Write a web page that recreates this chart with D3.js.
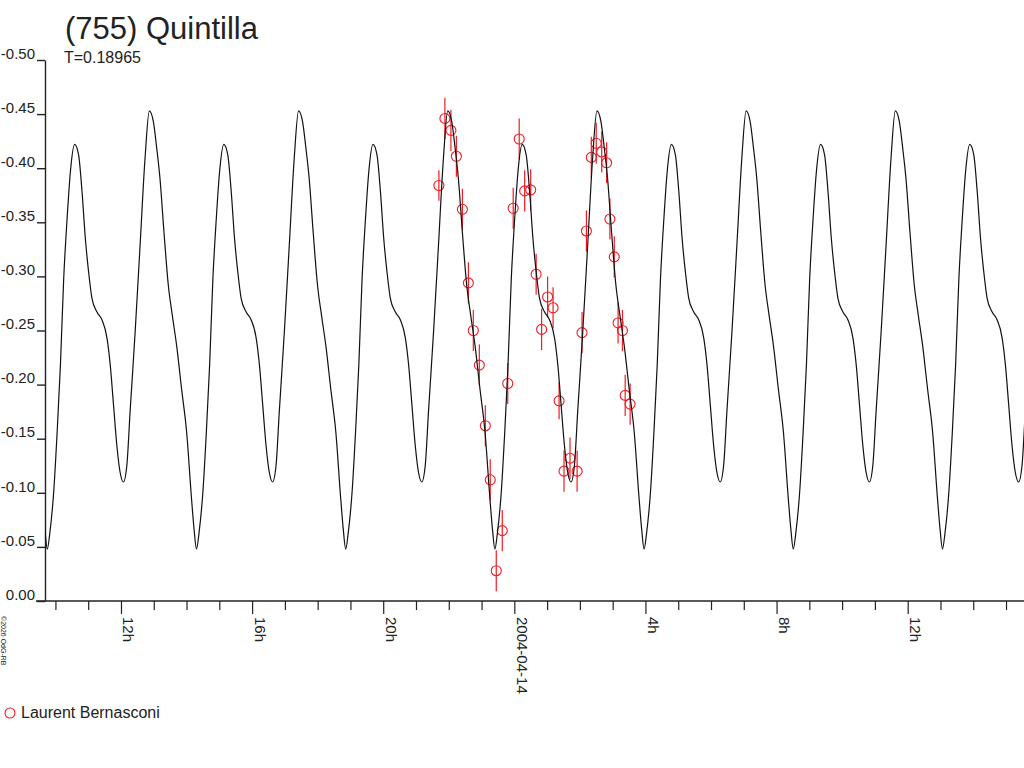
<!DOCTYPE html>
<html>
<head>
<meta charset="utf-8">
<script src="https://cdn.jsdelivr.net/npm/d3@7"></script>
<style>
  body { margin: 0; background: #fff; }
  svg { display: block; font-family: "Liberation Sans", Arial, sans-serif; }
</style>
</head>
<body>
<div id="chart"></div>
<script>
// lightcurve of (755) Quintilla, 2004-04-13/14
const title = "(755) Quintilla";
const periodDays = 0.18965;
const observer = "Laurent Bernasconi";
const copyright = "\u00a92026 OdG-RB";

// observations (UT), relative magnitude, error
const obsTimes = [
  "2004-04-13T21:41", "2004-04-13T21:52", "2004-04-13T22:03", "2004-04-13T22:13",
  "2004-04-13T22:24", "2004-04-13T22:35", "2004-04-13T22:44", "2004-04-13T22:55",
  "2004-04-13T23:06", "2004-04-13T23:15", "2004-04-13T23:26", "2004-04-13T23:37",
  "2004-04-13T23:47", "2004-04-13T23:57", "2004-04-14T00:08", "2004-04-14T00:18",
  "2004-04-14T00:29", "2004-04-14T00:39", "2004-04-14T00:49", "2004-04-14T01:00",
  "2004-04-14T01:10", "2004-04-14T01:21", "2004-04-14T01:30", "2004-04-14T01:41",
  "2004-04-14T01:54", "2004-04-14T02:03", "2004-04-14T02:11", "2004-04-14T02:20",
  "2004-04-14T02:29", "2004-04-14T02:39", "2004-04-14T02:48", "2004-04-14T02:54",
  "2004-04-14T03:02", "2004-04-14T03:09", "2004-04-14T03:17", "2004-04-14T03:22",
  "2004-04-14T03:31"
];
const obsMags = [
  -0.384, -0.446, -0.435, -0.411, -0.362, -0.294, -0.250, -0.218,
  -0.162, -0.112, -0.028, -0.065, -0.201, -0.363, -0.427, -0.379,
  -0.380, -0.302, -0.251, -0.281, -0.271, -0.185, -0.120, -0.132,
  -0.120, -0.248, -0.342, -0.410, -0.423, -0.415, -0.405, -0.353,
  -0.318, -0.257, -0.250, -0.190, -0.182
];
const obsErrs = [
  0.014, 0.019, 0.019, 0.019, 0.019, 0.019, 0.019, 0.019,
  0.019, 0.019, 0.019, 0.019, 0.019, 0.019, 0.019, 0.019,
  0.019, 0.019, 0.019, 0.019, 0.019, 0.017, 0.019, 0.019,
  0.019, 0.019, 0.019, 0.019, 0.019, 0.019, 0.019, 0.019,
  0.019, 0.019, 0.019, 0.019, 0.019
];

// fitted curve, one cycle (phase 0 = main maximum)
const curveEpoch = "2004-04-13T12:51";
const curvePhase = [
  0.000, 0.027, 0.049, 0.071, 0.098, 0.127, 0.154, 0.183, 0.216, 0.250,
  0.283, 0.300, 0.316, 0.333, 0.359, 0.382, 0.404, 0.426, 0.449, 0.471,
  0.499, 0.526, 0.549, 0.571, 0.593, 0.615, 0.649, 0.682, 0.716, 0.738,
  0.760, 0.782, 0.804, 0.826, 0.849, 0.871, 0.905, 0.938, 0.971
];
const curveMag = [
  -0.453, -0.443, -0.419, -0.391, -0.341, -0.292, -0.264, -0.236, -0.196, -0.156,
  -0.094, -0.066, -0.048, -0.063, -0.101, -0.156, -0.218, -0.298, -0.354, -0.397,
  -0.422, -0.412, -0.378, -0.335, -0.304, -0.280, -0.267, -0.260, -0.243, -0.218,
  -0.181, -0.144, -0.119, -0.110, -0.125, -0.175, -0.249, -0.329, -0.409
];

const yTickValues = [-0.50, -0.45, -0.40, -0.35, -0.30, -0.25, -0.20, -0.15, -0.10, -0.05, 0.00];
const xMajorTicks = ["2004-04-13T12:00", "2004-04-13T16:00", "2004-04-13T20:00", "2004-04-14T00:00",
                     "2004-04-14T04:00", "2004-04-14T08:00", "2004-04-14T12:00"];
const xMajorLabels = ["12h", "16h", "20h", "2004-04-14", "4h", "8h", "12h"];
const xDomain = ["2004-04-13T09:40", "2004-04-14T15:32"];

const parseT = s => new Date(s + "Z");

var width = 1024, height = 768;
var margin = {top: 60, right: 0, bottom: 167, left: 45};

var svg = d3.select("#chart")
  .append("svg")
  .attr("width", width)
  .attr("height", height);

svg.append("rect").attr("width", width).attr("height", height).attr("fill", "#fff");

var x = d3.scaleUtc()
  .domain(xDomain.map(parseT))
  .range([margin.left, width - margin.right]);

var y = d3.scaleLinear()
  .domain([0, -0.5])
  .range([height - margin.bottom, margin.top]);

const red = "#f01c24";
const ink = "#222";

// title
svg.append("text")
  .attr("x", 65).attr("y", 39)
  .attr("font-size", "31px")
  .attr("fill", ink)
  .text(title);
svg.append("text")
  .attr("x", 64).attr("y", 63)
  .attr("font-size", "16px")
  .attr("fill", ink)
  .text("T=" + periodDays);

// y axis
var yAxis = d3.axisLeft(y)
  .tickValues(yTickValues)
  .tickSize(8)
  .tickSizeOuter(0)
  .tickPadding(2)
  .tickFormat(d => d.toFixed(2));

var gy = svg.append("g")
  .attr("transform", "translate(" + margin.left + ",0)")
  .call(yAxis);
gy.selectAll("path,line").attr("stroke", ink).attr("stroke-width", 1.4);
gy.selectAll("text")
  .attr("font-size", "15px")
  .attr("font-family", "Liberation Sans, Arial, sans-serif")
  .attr("fill", ink)
  .attr("dy", "-0.12em");

// x axis: hourly ticks, labelled every 4 h
var x0 = y(0);
svg.append("line")
  .attr("x1", 36).attr("x2", width)
  .attr("y1", x0).attr("y2", x0)
  .attr("stroke", ink).attr("stroke-width", 1.4);

var hours = x.ticks(d3.utcHour.every(1));
svg.append("g").selectAll("line")
  .data(hours)
  .enter().append("line")
    .attr("x1", d => x(d)).attr("x2", d => x(d))
    .attr("y1", x0)
    .attr("y2", d => x0 + (d.getUTCHours() % 4 == 0 ? 13 : 9))
    .attr("stroke", ink).attr("stroke-width", 1.2);

svg.append("g").selectAll("text")
  .data(xMajorTicks.map((t, i) => ({t: parseT(t), label: xMajorLabels[i]})))
  .enter().append("text")
    .attr("transform", d => "translate(" + (x(d.t) + 2) + "," + (x0 + 16) + ") rotate(90)")
    .attr("font-size", "15px")
    .attr("fill", ink)
    .text(d => d.label);

// copyright
svg.append("text")
  .attr("transform", "translate(1,616) rotate(90)")
  .attr("font-size", "7px")
  .attr("fill", ink)
  .text(copyright);

// observations
const obs = obsTimes.map((t, i) => ({t: parseT(t), mag: obsMags[i], err: obsErrs[i]}));

svg.append("g").selectAll("line")
  .data(obs)
  .enter().append("line")
    .attr("x1", d => x(d.t)).attr("x2", d => x(d.t))
    .attr("y1", d => y(d.mag - d.err)).attr("y2", d => y(d.mag + d.err))
    .attr("stroke", red).attr("stroke-width", 1.2);

svg.append("g").selectAll("circle")
  .data(obs)
  .enter().append("circle")
    .attr("cx", d => x(d.t)).attr("cy", d => y(d.mag))
    .attr("r", 5)
    .attr("fill", "none")
    .attr("stroke", red).attr("stroke-width", 1.1);

// model curve, the read cycle laid end to end with the period
svg.append("clipPath").attr("id", "plotClip")
  .append("rect")
  .attr("x", margin.left).attr("y", 0)
  .attr("width", width - margin.left).attr("height", height);

const epoch = parseT(curveEpoch).getTime();
const pMs = periodDays * 86400000;
var curvePts = [];
for (var n = -2; n <= 7; n++) {
  curvePhase.forEach((ph, i) => {
    curvePts.push({t: new Date(epoch + (n + ph) * pMs), mag: curveMag[i]});
  });
}

var line = d3.line()
  .x(d => x(d.t))
  .y(d => y(d.mag))
  .curve(d3.curveMonotoneX);

svg.append("path")
  .datum(curvePts)
  .attr("clip-path", "url(#plotClip)")
  .attr("d", line)
  .attr("fill", "none")
  .attr("stroke", "#111")
  .attr("stroke-width", 1.2);

// legend
svg.append("circle")
  .attr("cx", 10).attr("cy", 713).attr("r", 5)
  .attr("fill", "none").attr("stroke", red).attr("stroke-width", 1.1);
svg.append("text")
  .attr("x", 21).attr("y", 718)
  .attr("font-size", "16px")
  .attr("fill", ink)
  .text(observer);
</script>
</body>
</html>
